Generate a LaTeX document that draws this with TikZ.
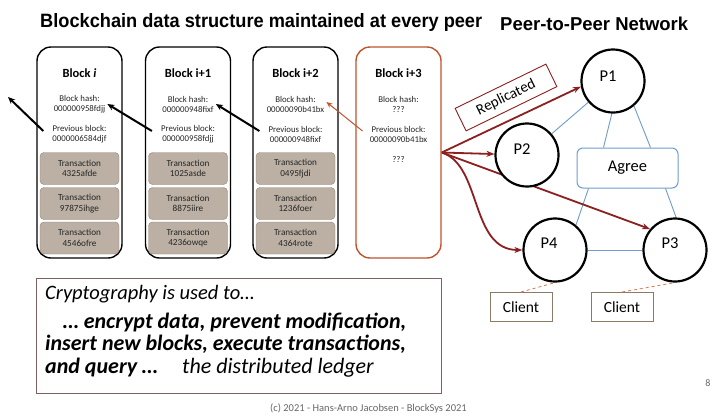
\documentclass[tikz,border=0pt]{standalone}
\usepackage{fontspec}
\setmainfont{Carlito}
\newfontfamily\arialfont{Liberation Sans}
\usepackage{graphicx}
\usepackage{tikz}
\usetikzlibrary{arrows.meta, positioning, backgrounds}

\definecolor{chainred}{HTML}{8C1F1F}
\definecolor{newblock}{HTML}{C0542F}
\definecolor{txfill}{HTML}{BBB0A3}
\definecolor{txline}{HTML}{8F8376}
\definecolor{netblue}{HTML}{6E9CCB}
\definecolor{clientline}{HTML}{8A7A66}
\definecolor{noteline}{HTML}{7D6060}
\definecolor{dashred}{HTML}{D9774F}

\begin{document}
\begin{tikzpicture}[x=1pt,y=-1pt,>=Stealth,
  block/.style={draw,rounded corners=14pt,line width=1.4pt,minimum width=85pt,minimum height=211pt},
  btitle/.style={font=\fontsize{12.5}{14}\selectfont\bfseries,inner sep=1pt},
  info/.style={align=center,font=\fontsize{8.8}{10}\selectfont,inner sep=2pt,text=black!85},
  tx/.style={draw=txline,fill=txfill,rounded corners=4pt,minimum width=79pt,minimum height=32pt,
    align=center,font=\fontsize{9.2}{10.5}\selectfont,inner sep=1pt,text=black!85},
  hashlink/.style={->,line width=2pt,-{Stealth[length=7pt,width=6pt]}},
  peer/.style={draw,circle,line width=2.2pt,minimum size=63pt,fill=white},
  plabel/.style={font=\fontsize{16.5}{18}\selectfont},
  link/.style={draw=netblue,line width=0.9pt},
  repl/.style={draw=chainred,line width=1.8pt,-{Stealth[length=8pt,width=6pt]}},
  client/.style={draw=clientline,line width=1pt,minimum width=62pt,minimum height=29pt,
    font=\fontsize{15.5}{17}\selectfont},
  notetext/.style={anchor=base west,inner sep=0pt,font=\fontsize{20.5}{24}\selectfont\itshape},
  notebold/.style={notetext,font=\fontsize{22}{24}\selectfont\bfseries\itshape}]
  \useasboundingbox (0,0) rectangle (722,418);

  \node[anchor=base west,inner sep=0pt] (title) at (40,27.5)
    {\resizebox{442pt}{14pt}{\arialfont\bfseries Blockchain data structure maintained at every peer}};
  \node[anchor=base west,inner sep=0pt] (nettitle) at (500,30)
    {\resizebox{188pt}{13.5pt}{\arialfont\bfseries Peer-to-Peer Network}};

  \foreach \bx/\bname/\bhash/\bprev/\ta/\tb/\tc [count=\k] in
    {79.5/{Block \textit{i}}/000000958fdjj/0000006584djf/4325afde/97875ihge/4546ofre,
     188/{Block i+1}/000000948fixf/000000958fdjj/1025asde/8875iire/4236owqe,
     295.5/{Block i+2}/00000090b41bx/000000948fixf/0495fjdi/1236foer/4364rote}{
    \node[block] (b\k) at (\bx,152.5) {};
    \node[btitle] (t\k) at (\bx,73) {\bname};
    \node[info] (h\k) at (\bx,104) {Block hash:\\\bhash};
    \node[info] (p\k) at (\bx,134) {Previous block:\\\bprev};
    \node[tx] (x\k a) at (\bx,168.5) {Transaction\\\ta};
    \node[tx] (x\k b) at (\bx,203.5) {Transaction\\\tb};
    \node[tx] (x\k c) at (\bx,238) {Transaction\\\tc};
  }
  \node[block,draw=newblock] (b4) at (398.5,152.5) {};
  \node[btitle] (t4) at (398.5,73) {Block i+3};
  \node[info] (h4) at (398.5,104) {Block hash:\\???};
  \node[info] (p4) at (398.5,134) {Previous block:\\00000090b41bx};
  \node[info] (q4) at (398.5,160) {???};

  \coordinate (gen) at (8,97);
  \draw[hashlink] ([xshift=-7pt,yshift=3pt]p1.west) -- (gen);
  \draw[hashlink] ([xshift=-7pt,yshift=3pt]p2.west) -- (h1.east);
  \draw[hashlink] ([xshift=-7pt,yshift=3pt]p3.west) -- (h2.east);
  \draw[->,draw=newblock,line width=1pt,-{Stealth[length=6pt,width=5pt]}]
    ([xshift=-5pt,yshift=3pt]p4.west) -- ([yshift=2pt]h3.east);

  \node[peer] (P1) at (613,81) {};
  \node[peer] (P2) at (527,155) {};
  \node[peer] (P4) at (555,250) {};
  \node[peer] (P3) at (675,250) {};
  \node[plabel] at ([shift={(-5,-5)}]P1) {P1};
  \node[plabel] at ([shift={(-5,-6)}]P2) {P2};
  \node[plabel] at ([shift={(-6,-7)}]P4) {P4};
  \node[plabel] at ([shift={(-5,-7)}]P3) {P3};
  \node[draw=netblue,fill=white,line width=1pt,rounded corners=6pt,minimum width=101pt,minimum height=40pt,
    font=\fontsize{16.5}{18}\selectfont] (agree) at (627.5,168) {Agree};

  \begin{scope}[on background layer]
    \fill[white] (0,0) rectangle (722,418);
    \draw[link] (P2) -- (P1);
    \draw[link] (P1.-92) -- ([xshift=-24pt]agree.north);
    \draw[link] (P1.-50) -- ([xshift=23pt]agree.north);
    \draw[link] ([xshift=-39pt]agree.south) -- (P4.50);
    \draw[link] ([xshift=38pt]agree.south) -- (P3.88);
    \draw[link] (P4) -- (P3);
    \draw[repl] (b4.east) -- (P1.190);
    \draw[repl] (b4.east) -- (P2);
    \draw[repl] (b4.east) -- (P3.140);
    \draw[repl] (b4.east) .. controls (482,165) and (470,250) .. (P4);
  \end{scope}

  \node[draw=chainred,line width=0.9pt,fill=white,rotate=26,minimum width=101pt,minimum height=25pt,
    font=\fontsize{15}{17}\selectfont] (replicated) at (506,97.5) {Replicated};

  \node[client] (c4) at (521,307) {Client};
  \node[client] (c3) at (622,307) {Client};
  \draw[dashed,draw=dashred,line width=0.8pt] (c4.north) -- (P4.south);
  \draw[dashed,draw=dashred,line width=0.8pt] (c3.north) -- (P3.south);

  \node[draw=noteline,line width=1pt,minimum width=405pt,minimum height=115pt] (note) at (238.5,335.5) {};
  \node[notetext] (n1) at (45,299) {Cryptography is used to\dots};
  \node[notebold] (n2) at (63,328) {\dots\ encrypt data, prevent modification,};
  \node[notebold] (n3) at (45,350) {insert new blocks, execute transactions,};
  \node[notebold] (n4) at (45,373) {and query \dots};
  \node[notetext,font=\fontsize{22}{24}\selectfont\itshape] (n5) at (182,373) {the distributed ledger};

  \node[font=\fontsize{10.5}{12}\selectfont,text=black!60] (footer) at (368.5,408) {(c) 2021 - Hans-Arno Jacobsen - BlockSys 2021};
  \node[font=\fontsize{10}{12}\selectfont,text=black!60] (page) at (708,383) {8};
\end{tikzpicture}
\end{document}
